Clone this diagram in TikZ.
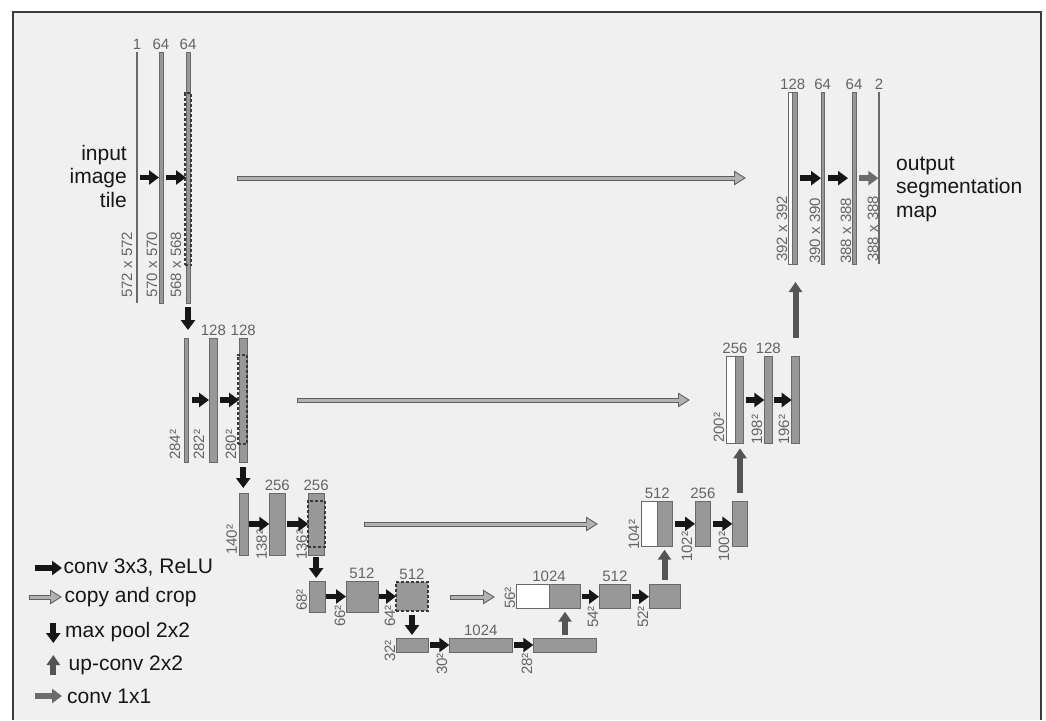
\documentclass[tikz,border=0pt]{standalone}
\usepackage{fontspec}
\setmainfont{Liberation Sans}
\usepackage{tikz}
\usetikzlibrary{arrows.meta,positioning}
\definecolor{unbg}{RGB}{240,240,240}
\definecolor{unframe}{RGB}{60,60,60}
\definecolor{unbar}{RGB}{152,152,152}
\definecolor{unedge}{RGB}{105,105,105}
\definecolor{untext}{RGB}{100,100,100}
\definecolor{unink}{RGB}{22,22,22}
\definecolor{uncopy}{RGB}{178,178,178}
\definecolor{uncopyedge}{RGB}{95,95,95}
\definecolor{unup}{RGB}{85,85,85}
\definecolor{uncrop}{RGB}{58,58,58}
\definecolor{unone}{RGB}{108,108,108}

\begin{document}
\begin{tikzpicture}[
  x=1pt, y=-1pt,
  every node/.style={font=\fontsize{15}{17}\selectfont},
  fmap/.style={draw=unedge, fill=unbar, line width=0.8pt, inner sep=0pt,
    outer sep=0pt, anchor=north west},
  halfwhite/.style={fmap, fill=white},
  chan/.style={fill=unedge, inner sep=0pt, outer sep=0pt,
    minimum width=1.3pt, anchor=north},
  cropbox/.style={draw=uncrop, dash pattern=on 3pt off 2pt,
    line width=2.2pt, inner sep=0pt, outer sep=0pt, anchor=north west},
  chlab/.style={text=untext, inner sep=1pt},
  dimlab/.style={chlab, rotate=90, anchor=west},
  bigtext/.style={font=\fontsize{21}{23.5}\selectfont, text=unink, inner sep=0pt},
  conv/.style={draw=unink, line width=5.5pt, -{Triangle[length=10pt,width=14pt]}},
  pool/.style={draw=unink, line width=6pt, -{Triangle[length=10pt,width=14pt]}},
  upconv/.style={draw=unup, line width=6pt, -{Triangle[length=10pt,width=13pt]}},
  onexone/.style={draw=unone, line width=5.5pt, -{Triangle[length=10pt,width=14pt]}},
  copyarr/.style={draw=uncopyedge, line width=5pt, -{Triangle[length=12pt,width=14pt]},
    postaction={draw=uncopy, line width=3pt, -{Triangle[length=9pt,width=10.5pt]},
      shorten >=2pt, shorten <=1pt}}
]
\useasboundingbox (0,0) rectangle (1046,720);
\fill[white] (0,0) rectangle (1046,720);
\fill[unbg] (13,12) rectangle (1041,720);
\draw[unframe, line width=1.5pt] (13,720) -- (13,12) -- (1041,12) -- (1041,720);

% contracting path
\node[chan, minimum height=251pt] (e11) at (137,52) {};
\node[fmap, minimum width=4pt, minimum height=251pt] (e12) at (159,52) {};
\node[fmap, minimum width=4pt, minimum height=251pt] (e13) at (186,52) {};
\node[cropbox, minimum width=6.6pt, minimum height=172pt] (k1) at (184.7,93) {};

\node[fmap, minimum width=4.5pt, minimum height=124pt] (e21) at (184.2,338) {};
\node[fmap, minimum width=8.7pt, minimum height=124pt] (e22) at (209,338) {};
\node[fmap, minimum width=8.5pt, minimum height=124pt] (e23) at (239,338) {};
\node[cropbox, minimum width=9.3pt, minimum height=89pt] (k2) at (237.7,355) {};

\node[fmap, minimum width=9pt, minimum height=62pt] (e31) at (239,493) {};
\node[fmap, minimum width=16pt, minimum height=62pt] (e32) at (269.3,493) {};
\node[fmap, minimum width=15.7pt, minimum height=62pt] (e33) at (308.3,493) {};
\node[cropbox, minimum width=17pt, minimum height=46.3pt] (k3) at (307.7,500.7) {};

\node[fmap, minimum width=16pt, minimum height=31pt] (e41) at (309,581) {};
\node[fmap, minimum width=32pt, minimum height=31pt] (e42) at (346,581) {};
\node[fmap, cropbox, fill=unbar, minimum width=32pt, minimum height=29pt] (e43) at (396,582) {};

\node[fmap, minimum width=32pt, minimum height=14pt] (e51) at (396,638) {};
\node[fmap, minimum width=63pt, minimum height=14pt] (e52) at (449.3,638) {};
\node[fmap, minimum width=63.4pt, minimum height=14pt] (e53) at (533.3,638) {};

% expansive path
\node[halfwhite, minimum width=32.3pt, minimum height=24pt] (d41) at (516.7,584.7) {};
\node[fmap, minimum width=31.7pt, minimum height=24pt] (d42) at (549,584.7) {};
\node[fmap, minimum width=31.7pt, minimum height=24pt] (d43) at (599,584.7) {};
\node[fmap, minimum width=31pt, minimum height=24pt] (d44) at (649,584.7) {};

\node[halfwhite, minimum width=15.6pt, minimum height=45.7pt] (d31) at (641.7,501) {};
\node[fmap, minimum width=15.4pt, minimum height=45.7pt] (d32) at (657.3,501) {};
\node[fmap, minimum width=15.7pt, minimum height=44.3pt] (d33) at (695,501.7) {};
\node[fmap, minimum width=15.4pt, minimum height=44.3pt] (d34) at (732.3,501.7) {};

\node[halfwhite, minimum width=8.3pt, minimum height=86.6pt] (d21) at (726.7,356.7) {};
\node[fmap, minimum width=8.3pt, minimum height=86.6pt] (d22) at (735,356.7) {};
\node[fmap, minimum width=8pt, minimum height=86.6pt] (d23) at (764.3,356.7) {};
\node[fmap, minimum width=7.6pt, minimum height=86.6pt] (d24) at (791.7,356.7) {};

\node[halfwhite, minimum width=4.4pt, minimum height=171.7pt] (d11) at (788.3,92.3) {};
\node[fmap, minimum width=4.6pt, minimum height=171.7pt] (d12) at (792.7,92.3) {};
\node[fmap, minimum width=3.3pt, minimum height=171.7pt] (d13) at (821,92.3) {};
\node[fmap, minimum width=4pt, minimum height=171.7pt] (d14) at (852,92.3) {};
\node[chan, minimum height=171.7pt] (d15) at (879,92.3) {};

% channel counts
\node[chlab, above=1.5pt of e11] (n11) {1};
\node[chlab, above=1.5pt of e12] (n12) {64};
\node[chlab, above=1.5pt of e13] (n13) {64};
\node[chlab, above=1.5pt of e22] (n22) {128};
\node[chlab, above=1.5pt of e23] (n23) {128};
\node[chlab, above=1.5pt of e32] (n32) {256};
\node[chlab, above=1.5pt of e33] (n33) {256};
\node[chlab, above=1.5pt of e42] (n42) {512};
\node[chlab, above=1.5pt of e43] (n43) {512};
\node[chlab, above=1.5pt of e52] (n52) {1024};
\node[chlab, above=1.5pt of d41.north east] (m41) {1024};
\node[chlab, above=1.5pt of d43] (m43) {512};
\node[chlab, above=1.5pt of d31.north east] (m31) {512};
\node[chlab, above=1.5pt of d33] (m33) {256};
\node[chlab, above=1.5pt of d21.north east] (m21) {256};
\node[chlab, above=1.5pt of d23] (m23) {128};
\node[chlab, above=1.5pt of d11.north east] (m11) {128};
\node[chlab, above=1.5pt of d13] (m13) {64};
\node[chlab, above=1.5pt of d14] (m14) {64};
\node[chlab, above=1.5pt of d15] (m15) {2};

% sizes
\node[dimlab] (s11) at (127,299) {572 x 572};
\node[dimlab] (s12) at (152,299) {570 x 570};
\node[dimlab] (s13) at (176,299) {568 x 568};
\node[dimlab] (s21) at (175,461) {284²};
\node[dimlab] (s22) at (199,461) {282²};
\node[dimlab] (s23) at (231,461) {280²};
\node[dimlab] (s31) at (231.7,556) {140²};
\node[dimlab] (s32) at (261.7,561) {138²};
\node[dimlab] (s33) at (301.7,561) {136²};
\node[dimlab] (s41) at (301.7,612) {68²};
\node[dimlab] (s42) at (340,628) {66²};
\node[dimlab] (s43) at (390,628) {64²};
\node[dimlab] (s51) at (390,663) {32²};
\node[dimlab] (s52) at (442,676) {30²};
\node[dimlab] (s53) at (527,676) {28²};
\node[dimlab] (t41) at (510,610) {56²};
\node[dimlab] (t43) at (593,629) {54²};
\node[dimlab] (t44) at (643,629) {52²};
\node[dimlab] (t31) at (634,551) {104²};
\node[dimlab] (t33) at (687,563) {102²};
\node[dimlab] (t34) at (724,563) {100²};
\node[dimlab] (t21) at (719,444) {200²};
\node[dimlab] (t23) at (757,446) {198²};
\node[dimlab] (t24) at (784,446) {196²};
\node[dimlab] (t11) at (782,263) {392 x 392};
\node[dimlab] (t13) at (815,265) {390 x 390};
\node[dimlab] (t14) at (846,265) {388 x 388};
\node[dimlab] (t15) at (873,263) {388 x 388};

\node[bigtext, align=right, anchor=east] (intile) at (127,176) {input\\image\\tile};
\node[bigtext, align=left, anchor=west] (outmap) at (896,189) {output\\segmentation\\map};

% 3x3 convolutions
\draw[conv] ([xshift=2pt]e11.east) -- (e12.west);
\draw[conv] ([xshift=3pt]e12.east) -- (e13.west);
\draw[conv] ([xshift=3pt]e21.east) -- (e22.west);
\draw[conv] ([xshift=2pt]e22.east) -- (e23.west);
\draw[conv] ([xshift=1pt]e31.east) -- (e32.west);
\draw[conv] ([xshift=2pt]e32.east) -- (e33.west);
\draw[conv] ([xshift=1pt]e41.east) -- (e42.west);
\draw[conv] ([xshift=1pt]e42.east) -- (e43.west);
\draw[conv] ([xshift=2pt]e51.east) -- (e52.west);
\draw[conv] ([xshift=2pt]e52.east) -- (e53.west);
\draw[conv] ([xshift=1pt]d42.east) -- (d43.west);
\draw[conv] ([xshift=1.5pt]d43.east) -- (d44.west);
\draw[conv] ([xshift=2pt]d32.east) -- (d33.west);
\draw[conv] ([xshift=2pt]d33.east) -- (d34.west);
\draw[conv] ([xshift=2.5pt]d22.east) -- (d23.west);
\draw[conv] ([xshift=2pt]d23.east) -- (d24.west);
\draw[conv] ([xshift=3pt]d12.east) -- (d13.west);
\draw[conv] ([xshift=4pt]d13.east) -- ([xshift=-4pt]d14.west);
\draw[onexone] ([xshift=3pt]d14.east) -- (d15.west);

% max pooling
\draw[pool] ([yshift=-4pt]e13.south) -- ([yshift=8pt]e13.south |- e21.north);
\draw[pool] ([yshift=-5pt]e23.south) -- ([yshift=5pt]e23.south |- e31.north);
\draw[pool] ([yshift=-2pt]e33.south) -- ([yshift=3pt]e33.south |- e41.north);
\draw[pool] ([yshift=-4pt]e43.south) -- ([yshift=3pt]e43.south |- e51.north);

% up-convolutions
\draw[upconv] ([yshift=3pt]e53.north) -- ([yshift=-3pt]e53.north |- d42.south);
\draw[upconv] ([yshift=5pt]d44.north) -- ([yshift=-3pt]d44.north |- d32.south);
\draw[upconv] ([yshift=9pt]d34.north) -- ([yshift=-5pt]d34.north |- d22.south);
\draw[upconv] ([yshift=19pt]d24.north) -- ([yshift=-18pt]d24.north |- d12.south);

% copy and crop
\coordinate (c1a) at (237,178);
\coordinate (c1b) at (746,178);
\coordinate (c2a) at (297,400);
\coordinate (c2b) at (690,400);
\coordinate (c3a) at (364,524);
\coordinate (c3b) at (598,524);
\coordinate (c4a) at (450,597);
\coordinate (c4b) at (495,597);
\draw[copyarr] (c1a) -- (c1b);
\draw[copyarr] (c2a) -- (c2b);
\draw[copyarr] (c3a) -- (c3b);
\draw[copyarr] (c4a) -- (c4b);

% legend
\node[bigtext, anchor=west] (lg1) at (63.5,568) {conv 3x3, ReLU};
\node[bigtext, anchor=west] (lg2) at (64.5,597) {copy and crop};
\node[bigtext, anchor=west] (lg3) at (65,632) {max pool 2x2};
\node[bigtext, anchor=west] (lg4) at (68.5,665) {up-conv 2x2};
\node[bigtext, anchor=west] (lg5) at (67,696) {conv 1x1};
\draw[conv] ([xshift=-28.5pt]lg1.west) -- ([xshift=-1.5pt]lg1.west);
\draw[copyarr] ([xshift=-36pt]lg2.west) -- ([xshift=-2.5pt]lg2.west);
\draw[pool] ([xshift=-11.7pt,yshift=9pt]lg3.west) -- ([xshift=-11.7pt,yshift=-11pt]lg3.west);
\draw[upconv] ([xshift=-15.2pt,yshift=-10pt]lg4.west) -- ([xshift=-15.2pt,yshift=10pt]lg4.west);
\draw[onexone] ([xshift=-32pt]lg5.west) -- ([xshift=-5pt]lg5.west);
\end{tikzpicture}
\end{document}
